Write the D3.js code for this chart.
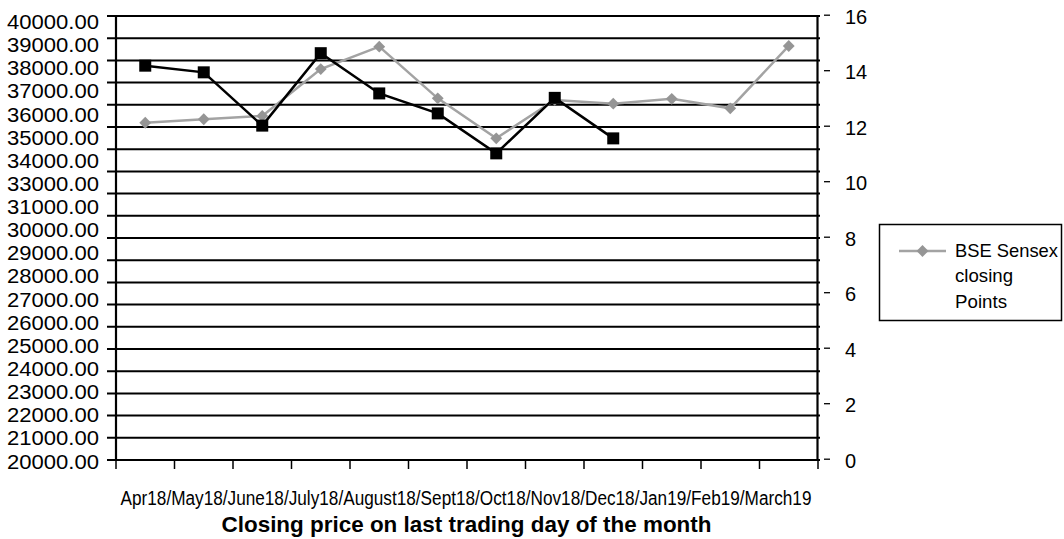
<!DOCTYPE html>
<html>
<head>
<meta charset="utf-8">
<script src="https://cdn.jsdelivr.net/npm/d3@7"></script>
<style>
  html, body { margin: 0; padding: 0; background: #fff; }
  svg text { font-family: "Liberation Sans", Arial, Helvetica, sans-serif; fill: #000; }
</style>
</head>
<body>
<svg id="chart" width="1064" height="539"></svg>
<script>
// ---- data ----
const months = ["Apr18","May18","June18","July18","August18","Sept18","Oct18","Nov18","Dec18","Jan19","Feb19","March19"];
const sensexPoints = [35190, 35350, 35500, 37610, 38620, 36290, 34490, 36220, 36050, 36270, 35840, 38650];
const secondMonths = ["Apr18","May18","June18","July18","August18","Sept18","Oct18","Nov18","Dec18"];
const secondValues = [14.21, 13.97, 12.05, 14.66, 13.21, 12.49, 11.05, 13.05, 11.59];
const leftTickLabels = ["40000.00","39000.00","38000.00","37000.00","36000.00","35000.00","34000.00","33000.00","31000.00","30000.00","29000.00","28000.00","27000.00","26000.00","25000.00","24000.00","23000.00","22000.00","21000.00","20000.00"];
const rightTicks = [0, 2, 4, 6, 8, 10, 12, 14, 16];
const legendLines = ["BSE Sensex", "closing", "Points"];
const xTitle = "Closing price on last trading day of the month";

// ---- layout ----
const svg = d3.select("#chart");
const L = 116, R = 818, T = 16, B = 460;

const x = d3.scaleBand().domain(months).range([L, R]).padding(0);
const yL = d3.scaleLinear().domain([20000, 40000]).range([B, T]);
const yR = d3.scaleLinear().domain([0, 16]).range([B, T]);
const yLab = d3.scalePoint().domain(leftTickLabels).range([22, 461.5]);

const cx = m => x(m) + x.bandwidth() / 2;

// gridlines
const gridVals = d3.range(20000, 40001, 1000);
svg.append("g").selectAll("line").data(gridVals).join("line")
  .attr("x1", 107).attr("x2", R + 2)
  .attr("y1", d => yL(d)).attr("y2", d => yL(d))
  .attr("stroke", "#000").attr("stroke-width", 2);

// left axis line and right border
svg.append("line").attr("x1", L).attr("x2", L).attr("y1", T - 1).attr("y2", B + 1)
  .attr("stroke", "#000").attr("stroke-width", 2.2);
svg.append("line").attr("x1", R - 0.5).attr("x2", R - 0.5).attr("y1", T - 1).attr("y2", B + 1)
  .attr("stroke", "#000").attr("stroke-width", 2.2);

// bottom ticks at band boundaries
const bounds = months.map(m => x(m)).concat([R]);
svg.append("g").selectAll("line").data(bounds).join("line")
  .attr("x1", d => d).attr("x2", d => d)
  .attr("y1", B).attr("y2", B + 9)
  .attr("stroke", "#000").attr("stroke-width", 1.5);

// left labels
svg.append("g").selectAll("text").data(leftTickLabels).join("text")
  .attr("x", 99).attr("y", d => yLab(d))
  .attr("text-anchor", "end").attr("dominant-baseline", "central")
  .attr("font-size", 20)
  .attr("textLength", 92).attr("lengthAdjust", "spacingAndGlyphs")
  .text(d => d);

// right axis ticks and labels
svg.append("g").selectAll("line").data(rightTicks).join("line")
  .attr("x1", 824).attr("x2", 830)
  .attr("y1", d => yR(d) - 0.8).attr("y2", d => yR(d) - 0.8)
  .attr("stroke", "#000").attr("stroke-width", 1.3);
svg.append("g").selectAll("text").data(rightTicks).join("text")
  .attr("x", 845).attr("y", d => yR(d) + 0.5)
  .attr("dominant-baseline", "central")
  .attr("font-size", 20)
  .text(d => d);

// x labels
svg.append("text")
  .attr("x", 120.5).attr("y", 505)
  .attr("font-size", 20)
  .attr("textLength", 691).attr("lengthAdjust", "spacingAndGlyphs")
  .text(months.join("/"));

svg.append("text")
  .attr("x", 221.5).attr("y", 532)
  .attr("font-size", 22.5).attr("font-weight", "bold")
  .attr("textLength", 490).attr("lengthAdjust", "spacingAndGlyphs")
  .text(xTitle);

// gray series (left axis)
const gray = "#a3a3a3";
svg.append("path")
  .datum(months.map((m, i) => [cx(m), yL(sensexPoints[i])]))
  .attr("fill", "none").attr("stroke", gray).attr("stroke-width", 2.5)
  .attr("d", d3.line());
const diamond = d3.symbol().type(d3.symbolSquare).size(70);
svg.append("g").selectAll("path").data(months).join("path")
  .attr("transform", (m, i) => `translate(${cx(m)},${yL(sensexPoints[i])}) rotate(45)`)
  .attr("d", diamond).attr("fill", "#959595");

// black series (right axis)
svg.append("path")
  .datum(secondMonths.map((m, i) => [cx(m), yR(secondValues[i])]))
  .attr("fill", "none").attr("stroke", "#000").attr("stroke-width", 2.5)
  .attr("d", d3.line());
svg.append("g").selectAll("rect").data(secondMonths).join("rect")
  .attr("x", m => cx(m) - 6).attr("y", (m, i) => yR(secondValues[i]) - 6)
  .attr("width", 12).attr("height", 12).attr("fill", "#000");

// legend
const lg = svg.append("g");
lg.append("rect").attr("x", 879.5).attr("y", 224.5).attr("width", 182).attr("height", 96)
  .attr("fill", "#fff").attr("stroke", "#000").attr("stroke-width", 1.5);
lg.append("line").attr("x1", 899).attr("x2", 946).attr("y1", 251).attr("y2", 251)
  .attr("stroke", gray).attr("stroke-width", 2.5);
lg.append("path").attr("transform", "translate(922.5,251) rotate(45)").attr("d", diamond).attr("fill", "#959595");
lg.selectAll("text").data(legendLines).join("text")
  .attr("x", 955).attr("y", (d, i) => 256.5 + i * 25.8)
  .attr("font-size", 19)
  .attr("textLength", (d, i) => [103, 58, 52][i]).attr("lengthAdjust", "spacingAndGlyphs")
  .text(d => d);
</script>
</body>
</html>
